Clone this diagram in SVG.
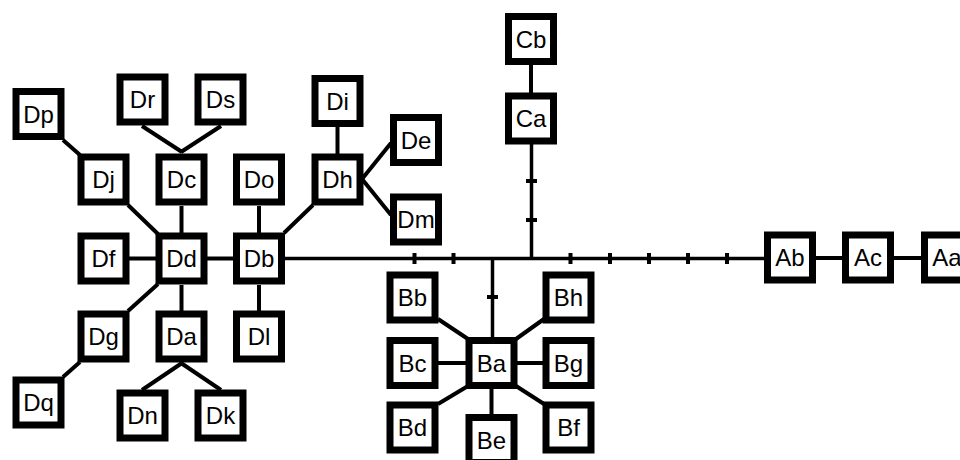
<svg xmlns="http://www.w3.org/2000/svg" width="960" height="460" viewBox="0 0 960 460">
  <style>
    .edge { stroke: #000; stroke-width: 4; fill: none; }
    .main { stroke: #000; stroke-width: 3.5; fill: none; }
    .tick { stroke: #000; stroke-width: 4; fill: none; }
    .box { fill: #fff; stroke: #000; stroke-width: 7; }
    .lbl { font-family: "Liberation Sans", Arial, sans-serif; font-size: 24px; fill: #000; text-anchor: middle; }
  </style>
  <defs>
    <g id="box"><rect class="box" x="-22.5" y="-22.5" width="45" height="45"/></g>
  </defs>
  <rect width="960" height="460" fill="#fff"/>

  <g id="connectors">
    <!-- trunk -->
    <line class="main" x1="285" y1="258.5" x2="765" y2="258.5"/>
    <line class="edge" x1="815" y1="258" x2="844" y2="258"/>
    <line class="edge" x1="893" y1="258" x2="922" y2="258"/>
    <!-- C branch -->
    <line class="main" x1="531.5" y1="144" x2="531.5" y2="258.5"/>
    <line class="edge" x1="531" y1="64" x2="531" y2="93"/>
    <!-- B branch -->
    <line class="main" x1="492.5" y1="258.5" x2="492.5" y2="338"/>
    <line class="edge" x1="438" y1="319" x2="468" y2="339"/>
    <line class="edge" x1="516" y1="339" x2="544" y2="319"/>
    <line class="edge" x1="438" y1="363" x2="466" y2="363"/>
    <line class="edge" x1="517" y1="363" x2="543" y2="363"/>
    <line class="edge" x1="468" y1="386" x2="438" y2="404"/>
    <line class="edge" x1="516" y1="386" x2="544" y2="404"/>
    <line class="edge" x1="491.5" y1="389" x2="491.5" y2="415"/>
    <!-- D branch -->
    <line class="edge" x1="63" y1="140" x2="80" y2="155"/>
    <line class="edge" x1="142" y1="126" x2="182" y2="152"/>
    <line class="edge" x1="221" y1="126" x2="181" y2="152"/>
    <line class="edge" x1="128" y1="205" x2="158" y2="234"/>
    <line class="edge" x1="181.5" y1="206" x2="181.5" y2="233"/>
    <line class="edge" x1="259" y1="206" x2="259" y2="233"/>
    <line class="edge" x1="129" y1="258.5" x2="156" y2="258.5"/>
    <line class="edge" x1="207" y1="258.5" x2="233" y2="258.5"/>
    <line class="edge" x1="158" y1="284" x2="128" y2="311"/>
    <line class="edge" x1="181.5" y1="285" x2="181.5" y2="311"/>
    <line class="edge" x1="259" y1="285" x2="259" y2="311"/>
    <line class="edge" x1="80" y1="362" x2="63" y2="377"/>
    <line class="edge" x1="182" y1="363" x2="142" y2="390"/>
    <line class="edge" x1="181" y1="363" x2="221" y2="390"/>
    <line class="edge" x1="284" y1="233" x2="313" y2="205"/>
    <line class="edge" x1="337.5" y1="127" x2="337.5" y2="154"/>
    <line class="edge" x1="362" y1="179" x2="391" y2="143"/>
    <line class="edge" x1="362" y1="179" x2="391" y2="215"/>
    <!-- tick marks -->
    <g class="tick">
      <line x1="414.5" y1="253" x2="414.5" y2="264"/>
      <line x1="453.5" y1="253" x2="453.5" y2="264"/>
      <line x1="570.5" y1="253" x2="570.5" y2="264"/>
      <line x1="610" y1="253" x2="610" y2="264"/>
      <line x1="649" y1="253" x2="649" y2="264"/>
      <line x1="688" y1="253" x2="688" y2="264"/>
      <line x1="727" y1="253" x2="727" y2="264"/>
      <line x1="526" y1="181" x2="537" y2="181"/>
      <line x1="526" y1="220" x2="537" y2="220"/>
      <line x1="487" y1="297" x2="498" y2="297"/>
    </g>
  </g>

  <g id="nodes">
    <g id="Aa" transform="translate(947,257.5)"><use href="#box"/><text class="lbl" y="8.5">Aa</text></g>
    <g id="Ab" transform="translate(790,257.5)"><use href="#box"/><text class="lbl" y="8.5">Ab</text></g>
    <g id="Ac" transform="translate(868,257.5)"><use href="#box"/><text class="lbl" y="8.5">Ac</text></g>
    <g id="Ba" transform="translate(491.5,363)"><use href="#box"/><text class="lbl" y="8.5">Ba</text></g>
    <g id="Bb" transform="translate(412.5,297.5)"><use href="#box"/><text class="lbl" y="8.5">Bb</text></g>
    <g id="Bc" transform="translate(412.5,363)"><use href="#box"/><text class="lbl" y="8.5">Bc</text></g>
    <g id="Bd" transform="translate(412.5,427.5)"><use href="#box"/><text class="lbl" y="8.5">Bd</text></g>
    <g id="Be" transform="translate(491.5,440)"><use href="#box"/><text class="lbl" y="8.5">Be</text></g>
    <g id="Bf" transform="translate(568.5,427.5)"><use href="#box"/><text class="lbl" y="8.5">Bf</text></g>
    <g id="Bg" transform="translate(568.5,363)"><use href="#box"/><text class="lbl" y="8.5">Bg</text></g>
    <g id="Bh" transform="translate(568.5,297.5)"><use href="#box"/><text class="lbl" y="8.5">Bh</text></g>
    <g id="Ca" transform="translate(531,118.5)"><use href="#box"/><text class="lbl" y="8.5">Ca</text></g>
    <g id="Cb" transform="translate(531,39)"><use href="#box"/><text class="lbl" y="8.5">Cb</text></g>
    <g id="Da" transform="translate(181.5,336.5)"><use href="#box"/><text class="lbl" y="8.5">Da</text></g>
    <g id="Db" transform="translate(259,258.5)"><use href="#box"/><text class="lbl" y="8.5">Db</text></g>
    <g id="Dc" transform="translate(181.5,179.5)"><use href="#box"/><text class="lbl" y="8.5">Dc</text></g>
    <g id="Dd" transform="translate(181.5,258.5)"><use href="#box"/><text class="lbl" y="8.5">Dd</text></g>
    <g id="De" transform="translate(416,140)"><use href="#box"/><text class="lbl" y="8.5">De</text></g>
    <g id="Df" transform="translate(103.5,258.5)"><use href="#box"/><text class="lbl" y="8.5">Df</text></g>
    <g id="Dg" transform="translate(103.5,336.5)"><use href="#box"/><text class="lbl" y="8.5">Dg</text></g>
    <g id="Dh" transform="translate(337.5,179.5)"><use href="#box"/><text class="lbl" y="8.5">Dh</text></g>
    <g id="Di" transform="translate(337.5,101)"><use href="#box"/><text class="lbl" y="8.5">Di</text></g>
    <g id="Dj" transform="translate(103.5,179.5)"><use href="#box"/><text class="lbl" y="8.5">Dj</text></g>
    <g id="Dk" transform="translate(220.5,415.5)"><use href="#box"/><text class="lbl" y="8.5">Dk</text></g>
    <g id="Dl" transform="translate(259,336.5)"><use href="#box"/><text class="lbl" y="8.5">Dl</text></g>
    <g id="Dm" transform="translate(416,219.5)"><use href="#box"/><text class="lbl" y="8.5">Dm</text></g>
    <g id="Dn" transform="translate(142.5,415.5)"><use href="#box"/><text class="lbl" y="8.5">Dn</text></g>
    <g id="Do" transform="translate(259,179.5)"><use href="#box"/><text class="lbl" y="8.5">Do</text></g>
    <g id="Dp" transform="translate(38.5,114)"><use href="#box"/><text class="lbl" y="8.5">Dp</text></g>
    <g id="Dq" transform="translate(38.5,402.5)"><use href="#box"/><text class="lbl" y="8.5">Dq</text></g>
    <g id="Dr" transform="translate(142.5,99.5)"><use href="#box"/><text class="lbl" y="8.5">Dr</text></g>
    <g id="Ds" transform="translate(220.5,99.5)"><use href="#box"/><text class="lbl" y="8.5">Ds</text></g>
  </g>
</svg>
